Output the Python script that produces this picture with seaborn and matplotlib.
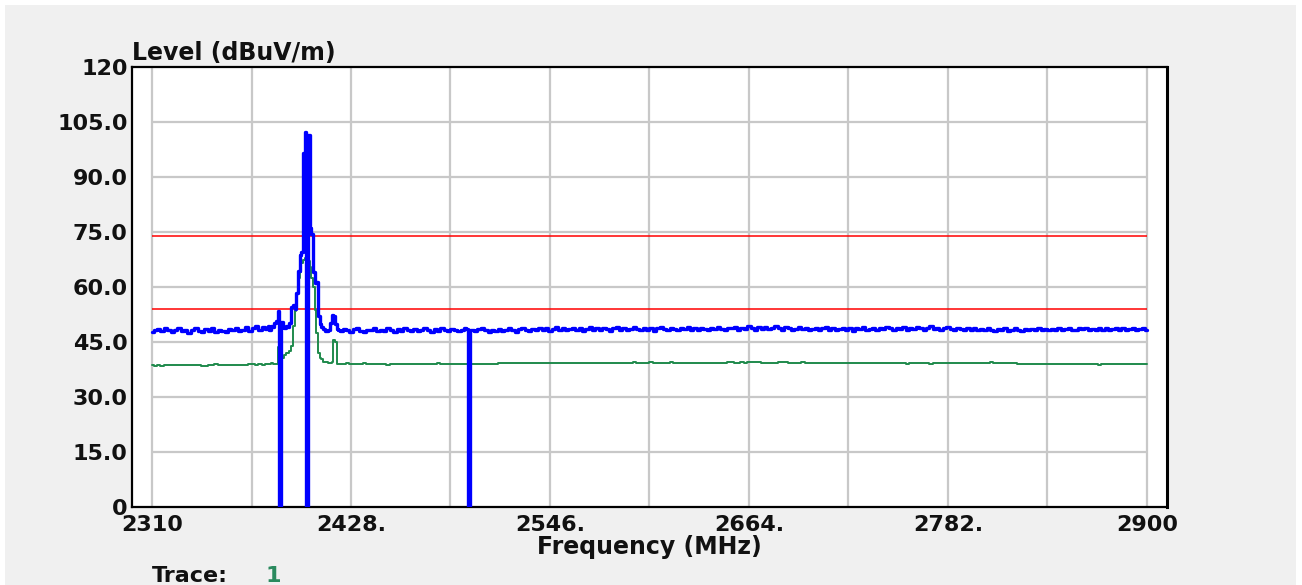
import numpy as np
import pandas as pd
import matplotlib
matplotlib.use("Agg")
import matplotlib.pyplot as plt
from matplotlib.patches import Rectangle
import seaborn as sns

# sweep grid in MHz: 2 MHz steps, 1 MHz steps around the carrier and the dropout
freq_lo = np.arange(2310, 2378, 2)
freq_peak = np.arange(2378, 2422, 1)
freq_hi1 = np.arange(2422, 2496, 2)
freq_drop = np.arange(2496, 2501, 1)
freq_hi2 = np.arange(2502, 2901, 2)

# peak detector trace (blue), dBuV/m
blue_lo = [47.8, 48.3, 48.6, 48.0, 48.9, 48.2, 47.6, 48.4, 48.7, 47.9,
           48.2, 47.5, 48.3, 48.8, 48.0, 47.7, 48.5, 48.1, 48.9, 47.8,
           48.3, 48.0, 47.6, 48.6, 48.2, 48.9, 47.9, 48.4, 49.2, 48.0,
           48.7, 49.4, 48.3, 49.0]
blue_peak = [48.6, 49.3, 48.4, 49.5, 49.0, 50.2, 50.8, 53.5, 0.0, 50.5,
             49.2, 48.8, 49.4, 49.0, 50.2, 54.5, 55.0, 54.0, 58.5, 64.5,
             68.7, 69.5, 96.5, 102.3, 0.0, 101.4, 76.0, 74.5, 64.2, 61.0,
             61.5, 52.0, 50.0, 49.0, 48.6, 48.0, 47.9, 48.4, 50.2, 52.5,
             52.0, 50.0, 48.6, 48.2]
blue_hi1 = [48.0, 48.6, 48.2, 47.7, 48.5, 48.9, 48.1, 47.8, 48.4, 48.2,
            48.7, 47.9, 48.3, 48.0, 48.8, 48.2, 47.6, 48.5, 48.1, 48.9,
            48.3, 47.9, 48.6, 48.0, 48.4, 48.8, 48.2, 47.8, 48.5, 48.1,
            48.7, 48.3, 47.9, 48.6, 48.2, 48.0, 48.4]
blue_drop = [48.8, 48.5, 0.0, 48.2, 48.3]
blue_hi2 = [48.0, 48.5, 48.9, 48.2, 47.7, 48.4, 48.1, 48.6, 48.0, 48.3,
            48.8, 48.2, 47.8, 48.5, 48.9, 48.3, 48.0, 48.6, 48.2, 48.9,
            48.4, 48.7, 48.1, 48.6, 49.0, 48.3, 48.8, 48.2, 48.5, 48.9,
            48.3, 48.7, 48.0, 48.6, 49.1, 48.4, 48.8, 48.2, 48.9, 48.5,
            48.1, 48.7, 49.0, 48.4, 48.8, 48.2, 48.6, 49.2, 48.5, 48.3,
            48.9, 48.4, 48.7, 48.1, 48.8, 49.0, 48.5, 48.3, 48.9, 48.6,
            48.2, 48.8, 48.5, 49.1, 48.4, 48.7, 48.3, 48.9, 48.6, 48.2,
            48.8, 48.5, 49.2, 48.6, 48.3, 48.9, 48.7, 49.0, 48.4, 48.8,
            48.5, 49.3, 48.7, 48.4, 49.0, 48.6, 49.2, 48.5, 48.9, 49.4,
            48.7, 48.4, 49.1, 48.8, 48.3, 48.6, 49.0, 48.5, 48.9, 48.2,
            48.6, 48.9, 48.3, 48.7, 49.0, 48.4, 48.8, 48.2, 48.6, 48.9,
            48.4, 48.7, 48.1, 48.8, 48.5, 49.0, 48.3, 48.6, 48.9, 48.4,
            48.8, 48.5, 49.1, 48.7, 48.3, 48.9, 48.6, 49.2, 48.4, 48.8,
            48.5, 49.0, 48.7, 48.3, 48.8, 49.3, 48.6, 48.9, 48.4, 48.7,
            49.0, 48.6, 48.3, 48.8, 48.5, 48.2, 48.7, 48.4, 48.9, 48.3,
            48.6, 48.2, 48.7, 48.4, 48.0, 48.5, 48.3, 48.8, 48.1, 48.4,
            48.7, 48.3, 48.0, 48.5, 48.2, 48.6, 48.4, 48.9, 48.3, 48.5,
            48.2, 48.6, 48.4, 48.8, 48.3, 48.5, 48.9, 48.4, 48.2, 48.7,
            48.5, 48.9, 48.3, 48.6, 48.2, 48.8, 48.4, 48.7, 48.3, 48.6,
            48.9, 48.4, 48.7, 48.2, 48.6, 48.9, 48.3, 48.5, 48.8, 48.3]

# average detector trace (green), dBuV/m
green_lo = [38.7, 38.4, 38.7, 38.4, 38.7, 38.7, 38.7, 38.7, 38.7, 38.7,
            38.7, 38.7, 38.7, 38.7, 38.7, 38.4, 38.4, 38.7, 38.7, 38.9,
            38.7, 38.7, 38.7, 38.7, 38.7, 38.7, 38.7, 38.7, 38.7, 39.0,
            39.0, 38.8, 39.1, 38.8]
green_peak = [38.9, 39.1, 38.9, 39.2, 38.9, 38.9, 39.0, 43.7, 41.0, 40.6,
              40.6, 41.5, 42.0, 42.0, 42.5, 44.0, 49.5, 53.5, 58.0, 62.4,
              64.0, 66.5, 67.5, 68.0, 67.5, 67.0, 65.5, 62.5, 60.0, 53.7,
              47.5, 42.0, 40.6, 40.3, 39.6, 39.5, 39.5, 39.4, 39.4, 39.5,
              45.5, 45.0, 38.9, 38.9]
green_hi1 = [39.0, 39.0, 39.2, 39.0, 39.0, 39.0, 39.0, 39.2, 39.0, 39.0,
             39.0, 39.0, 39.0, 39.0, 38.8, 39.0, 39.0, 39.0, 39.0, 39.0,
             39.0, 39.0, 39.0, 39.0, 39.0, 39.0, 39.0, 39.0, 39.0, 39.2,
             39.0, 39.0, 39.0, 39.0, 39.0, 39.0, 39.0]
green_drop = [39.0, 39.0, 39.0, 39.0, 39.0]
green_hi2 = [39.0, 39.0, 39.0, 39.0, 39.0, 39.0, 38.9, 39.2, 39.2, 39.2,
             39.2, 39.2, 39.2, 39.2, 39.2, 39.2, 39.2, 39.2, 39.2, 39.2,
             39.2, 39.2, 39.2, 39.2, 39.2, 39.2, 39.2, 39.2, 39.2, 39.2,
             39.2, 39.2, 39.2, 39.2, 39.2, 39.2, 39.2, 39.2, 39.2, 39.2,
             39.2, 39.2, 39.2, 39.2, 39.2, 39.2, 39.2, 39.5, 39.2, 39.2,
             39.2, 39.2, 39.5, 39.2, 39.2, 39.2, 39.2, 39.2, 39.5, 39.2,
             39.2, 39.2, 39.2, 39.2, 39.2, 39.2, 39.2, 39.2, 39.2, 39.2,
             39.2, 39.2, 39.2, 39.2, 39.2, 39.6, 39.6, 39.2, 39.2, 39.6,
             39.2, 39.6, 39.6, 39.6, 39.6, 39.2, 39.2, 39.2, 39.2, 39.2,
             39.6, 39.6, 39.6, 39.2, 39.2, 39.2, 39.2, 39.6, 39.2, 39.2,
             39.2, 39.2, 39.2, 39.2, 39.2, 39.2, 39.2, 39.2, 39.2, 39.2,
             39.2, 39.2, 39.2, 39.2, 39.2, 39.2, 39.2, 39.2, 39.2, 39.2,
             39.2, 39.2, 39.2, 39.2, 39.2, 39.2, 39.2, 39.2, 39.0, 39.2,
             39.2, 39.2, 39.2, 39.2, 39.2, 39.0, 39.2, 39.2, 39.2, 39.2,
             39.2, 39.2, 39.2, 39.2, 39.2, 39.2, 39.2, 39.2, 39.2, 39.2,
             39.2, 39.2, 39.2, 39.5, 39.2, 39.2, 39.2, 39.2, 39.2, 39.2,
             39.2, 38.9, 38.9, 38.9, 39.1, 38.9, 38.9, 38.9, 39.1, 38.9,
             38.9, 39.1, 38.9, 38.9, 39.1, 38.9, 38.9, 38.9, 39.1, 38.9,
             38.9, 39.1, 38.9, 38.9, 38.9, 38.7, 38.9, 38.9, 39.1, 38.9,
             38.9, 38.9, 39.1, 38.9, 38.9, 39.1, 38.9, 38.9, 39.1, 39.1]

# limit lines (dBuV/m) and axis ticks
limit_freq = [2310, 2900]
limit_levels = [74, 54]
major_freqs = [2310, 2428, 2546, 2664, 2782, 2900]
freq_labels = ["2310", "2428.", "2546.", "2664.", "2782.", "2900"]
minor_freqs = [2369, 2487, 2605, 2723, 2841]
level_ticks = [0, 15, 30, 45, 60, 75, 90, 105, 120]
level_labels = ["0", "15.0", "30.0", "45.0", "60.0", "75.0", "90.0", "105.0", "120"]

df = pd.DataFrame({
    "freq": np.concatenate([freq_lo, freq_peak, freq_hi1, freq_drop, freq_hi2]),
    "peak": np.concatenate([blue_lo, blue_peak, blue_hi1, blue_drop, blue_hi2]),
    "avg": np.concatenate([green_lo, green_peak, green_hi1, green_drop, green_hi2]),
})

sns.set_style("white")
plt.rcParams["font.family"] = ["DejaVu Sans"]

BLUE = "#0000ff"
GREEN = "#1f8a4c"
GRID = "#c8c8c8"
TXT = "#111111"
W, H = 1302, 585

fig = plt.figure(figsize=(W / 100, H / 100), dpi=100, facecolor="white")
fig.add_artist(Rectangle((5 / W, 0), 1291 / W, 580 / H, transform=fig.transFigure,
                         facecolor="#f0f0f0", edgecolor="none", zorder=-1))
ax = fig.add_axes([132 / W, 78 / H, 1035 / W, 440 / H])
ax.set_facecolor("white")

# grid: vertical lines full height, horizontal only across the sweep span
ax.set_xticks(major_freqs, labels=freq_labels)
ax.set_xticks(minor_freqs, minor=True)
ax.grid(axis="x", which="both", color=GRID, lw=1.6)
ax.set_axisbelow(True)
ax.hlines(level_ticks[1:-1], limit_freq[0], limit_freq[1], color=GRID, lw=1.6, zorder=0.8)

ax.hlines(limit_levels, limit_freq[0], limit_freq[1], color="#ff0000", lw=1.1, zorder=1.5)

sns.lineplot(data=df, x="freq", y="avg", ax=ax, color=GREEN, lw=1.4,
             drawstyle="steps-mid", estimator=None, sort=False, zorder=2)
sns.lineplot(data=df, x="freq", y="peak", ax=ax, color=BLUE, lw=2.4,
             drawstyle="steps-mid", estimator=None, sort=False, zorder=3)

ax.set_xlim(2298.1, 2912.0)
ax.set_ylim(0, 120)
ax.set_yticks(level_ticks, labels=level_labels)
ax.tick_params(axis="both", length=0, labelsize=16, labelcolor=TXT)
ax.tick_params(axis="x", pad=6)
ax.tick_params(axis="y", pad=3)
for lab in ax.get_xticklabels() + ax.get_yticklabels():
    lab.set_fontweight("bold")

ax.set_xlabel("Frequency (MHz)", fontsize=17, fontweight="bold", color=TXT, labelpad=0)
ax.set_ylabel("")
ax.text(0, 1.004, "Level (dBuV/m)", transform=ax.transAxes, ha="left", va="bottom",
        fontsize=17, fontweight="bold", color=TXT)

for s in ax.spines.values():
    s.set_color("black")
    s.set_linewidth(1.6)
ax.spines["right"].set_linewidth(2.2)

fig.text(152 / W, 1 - 576 / H, "Trace:", ha="left", va="center",
         fontsize=16, fontweight="bold", color=TXT)
fig.text(265 / W, 1 - 576 / H, "1", ha="left", va="center",
         fontsize=16, fontweight="bold", color="#2a8a5e")

fig.savefig("out.png", dpi=100, facecolor=fig.get_facecolor())
